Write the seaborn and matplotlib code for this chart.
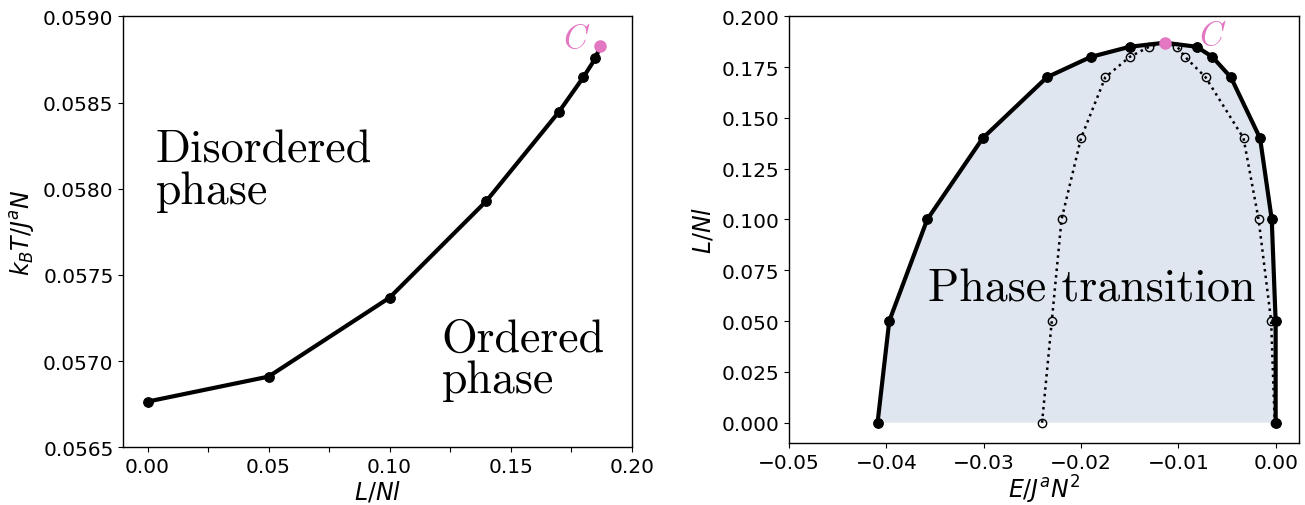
import numpy as np
import pandas as pd
import matplotlib
matplotlib.use("Agg")
import matplotlib.pyplot as plt
from matplotlib.ticker import MultipleLocator
import seaborn as sns

# ---------------- data ----------------
# left panel: critical temperature vs L/Nl
left_L = [0.0, 0.05, 0.10, 0.14, 0.17, 0.18, 0.185, 0.187]
left_T = [0.056765, 0.056910, 0.057368, 0.057929, 0.058447, 0.058646, 0.058756, 0.058826]
crit_L_left = 0.187
crit_T_left = 0.058826

# right panel: outer (solid) boundary  (E, L)
outer_E = [-0.0409, -0.0397, -0.0358, -0.0301, -0.0235, -0.0190, -0.0150, -0.0114,
           -0.0081, -0.0065, -0.0046, -0.0016, -0.0004, 0.0, 0.0]
outer_L = [0.0, 0.05, 0.10, 0.14, 0.17, 0.18, 0.185, 0.187,
           0.185, 0.18, 0.17, 0.14, 0.10, 0.05, 0.0]
# inner (dotted) boundary
inner_E = [-0.0240, -0.0230, -0.0220, -0.0200, -0.0175, -0.0150, -0.0130, -0.0114,
           -0.0101, -0.0093, -0.0072, -0.0033, -0.00175, -0.00046, -0.0001]
inner_L = [0.0, 0.05, 0.10, 0.14, 0.17, 0.18, 0.185, 0.187,
           0.185, 0.18, 0.17, 0.14, 0.10, 0.05, 0.0]
crit_E_right = -0.0114
crit_L_right = 0.187

left_yticks = [0.0565, 0.0570, 0.0575, 0.0580, 0.0585, 0.0590]
left_xticks = [0.00, 0.05, 0.10, 0.15, 0.20]
right_yticks = [0.000, 0.025, 0.050, 0.075, 0.100, 0.125, 0.150, 0.175, 0.200]
right_xticks = [-0.05, -0.04, -0.03, -0.02, -0.01, 0.00]

PINK = "#e377c2"
FILL = "#dfe6f0"

# ---------------- style ----------------
sns.set_style("ticks", {"axes.edgecolor": "black", "text.color": "black",
                        "xtick.color": "black", "ytick.color": "black",
                        "axes.labelcolor": "black"})
plt.rcParams["font.family"] = ["DejaVu Sans"]
plt.rcParams["xtick.labelsize"] = 14.5
plt.rcParams["ytick.labelsize"] = 14.5
plt.rcParams["axes.labelsize"] = 17
plt.rcParams["axes.linewidth"] = 1.0

fig = plt.figure(figsize=(13.05, 5.06), dpi=100)
W, H = 1305.0, 506.0
axL = fig.add_axes([123.3 / W, (H - 448.3) / H, (631.7 - 123.3) / W, (448.3 - 17.3) / H])
axR = fig.add_axes([789.0 / W, (H - 444.0) / H, (1299.0 - 789.0) / W, (444.0 - 17.3) / H])

# ---------------- left panel ----------------
dfL = pd.DataFrame({"L": left_L, "T": left_T})
sns.lineplot(data=dfL, x="L", y="T", ax=axL, color="black", lw=3, marker="o",
             markersize=7, markeredgecolor="black", sort=False, estimator=None)
axL.plot([crit_L_left], [crit_T_left], "o", color=PINK, markersize=8, zorder=5)
axL.set_xlim(-0.01, 0.20)
axL.set_ylim(0.0565, 0.0590)
axL.set_xticks(left_xticks)
axL.set_xticklabels([f"{v:.2f}" for v in left_xticks])
axL.xaxis.set_minor_locator(MultipleLocator(0.025))
axL.tick_params(axis="x", which="minor", length=3.5, width=0.8)
axL.set_yticks(left_yticks)
axL.set_yticklabels([f"{v:.4f}" for v in left_yticks])
axL.set_xlabel(r"$L/Nl$", labelpad=1.5)
axL.set_ylabel(r"$k_BT/J^aN$")

big = dict(fontfamily="cmr10", fontsize=33, ha="left", va="baseline")
axL.text(0.0031, 0.058159, "Disordered", **big)
axL.text(0.0035, 0.057917, "phase", **big)
axL.text(0.1212, 0.05706, "Ordered", **big)
axL.text(0.1215, 0.056821, "phase", **big)
axL.text(0.1715, 0.058822, r"$C$", math_fontfamily="cm", fontsize=24, color=PINK,
         ha="left", va="baseline")

# ---------------- right panel ----------------
axR.fill(outer_E, outer_L, color=FILL, lw=0, zorder=0)
dfI = pd.DataFrame({"E": inner_E, "L": inner_L})
sns.lineplot(data=dfI, x="E", y="L", ax=axR, color="black", lw=1.8, linestyle=":",
             marker="o", markersize=6, markerfacecolor="none", markeredgecolor="black",
             markeredgewidth=1.0, sort=False, estimator=None)
dfO = pd.DataFrame({"E": outer_E, "L": outer_L})
sns.lineplot(data=dfO, x="E", y="L", ax=axR, color="black", lw=3, marker="o",
             markersize=7, markeredgecolor="black", sort=False, estimator=None)
axR.plot([crit_E_right], [crit_L_right], "o", color=PINK, markersize=8, zorder=5)
axR.set_xlim(-0.05, 0.0024)
axR.set_ylim(-0.01, 0.20)
axR.set_xticks(right_xticks)
axR.set_xticklabels(["\u22120.05", "\u22120.04", "\u22120.03", "\u22120.02", "\u22120.01", "0.00"])
axR.set_yticks(right_yticks)
axR.set_yticklabels([f"{v:.3f}" for v in right_yticks])
axR.set_xlabel(r"$E/J^aN^2$", labelpad=1.0)
axR.set_ylabel(r"$L/Nl$")
axR.text(-0.0357, 0.0601, "Phase transition", **big)
axR.text(-0.0079, 0.1864, r"$C$", math_fontfamily="cm", fontsize=24, color=PINK,
         ha="left", va="baseline")

fig.savefig("out.png", dpi=100)
